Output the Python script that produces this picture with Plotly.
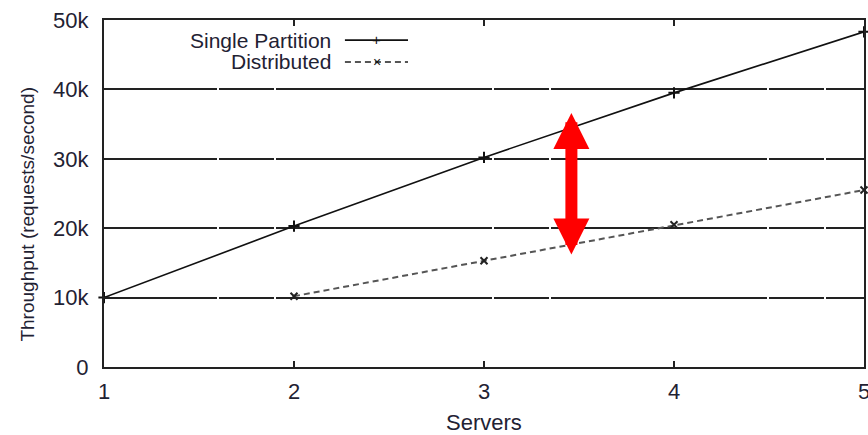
import plotly.graph_objects as go

servers = [1, 2, 3, 4, 5]
single_partition = [10000, 20300, 30200, 39500, 48300]
dist_servers = [2, 3, 4, 5]
distributed = [10200, 15300, 20500, 25500]
y_ticks = [0, 10000, 20000, 30000, 40000, 50000]
y_tick_labels = ["0", "10k", "20k", "30k", "40k", "50k"]
x_ticks = [1, 2, 3, 4, 5]
arrow_x = 3.46
arrow_top = 36600
arrow_bottom = 16000

FONT = "Liberation Sans, Arial, sans-serif"
TXT = "#1f2233"
FS = 22

fig = go.Figure()
fig.add_trace(go.Scatter(
    x=servers, y=single_partition, mode="lines+markers", name="Single Partition",
    line=dict(color="#111", width=1.6),
    marker=dict(symbol="cross-thin", size=8, line=dict(color="#111", width=2)),
    showlegend=False, cliponaxis=False))
fig.add_trace(go.Scatter(
    x=dist_servers, y=distributed, mode="lines+markers", name="Distributed",
    line=dict(color="#555", width=2, dash="6px,4px"),
    marker=dict(symbol="x-thin", size=7, line=dict(color="#222", width=2)),
    showlegend=False, cliponaxis=False))

fig.add_annotation(x=arrow_x, y=arrow_top, ax=arrow_x, ay=arrow_bottom,
                   xref="x", yref="y", axref="x", ayref="y",
                   showarrow=True, arrowhead=2, startarrowhead=2, arrowside="end+start",
                   arrowwidth=12, arrowsize=0.6, startarrowsize=0.6,
                   arrowcolor="#ff0000", text="")

# manual gnuplot-style legend (text left, sample right)
fig.add_annotation(xref="paper", yref="paper", x=0.301, y=0.942, xanchor="right",
                   yanchor="middle", text="Single Partition", showarrow=False,
                   font=dict(family=FONT, size=21, color=TXT))
fig.add_annotation(xref="paper", yref="paper", x=0.301, y=0.879, xanchor="right",
                   yanchor="middle", text="Distributed", showarrow=False,
                   font=dict(family=FONT, size=21, color=TXT))
fig.add_shape(type="line", xref="paper", yref="paper", x0=0.317, x1=0.4, y0=0.942, y1=0.942,
              line=dict(color="#111", width=1.6))
fig.add_shape(type="line", xref="paper", yref="paper", x0=0.317, x1=0.4, y0=0.879, y1=0.879,
              line=dict(color="#555", width=2, dash="6px,4px"))
fig.add_annotation(xref="paper", yref="paper", x=0.359, y=0.944, text="+", showarrow=False,
                   font=dict(family=FONT, size=15, color="#111"), yanchor="middle")
fig.add_annotation(xref="paper", yref="paper", x=0.359, y=0.879, text="×", showarrow=False,
                   font=dict(family=FONT, size=14, color="#111"), yanchor="middle")

# axis titles
fig.add_annotation(xref="paper", yref="paper", x=-0.101, y=0.44, text="Throughput (requests/second)",
                   textangle=-90, showarrow=False, xanchor="center", yanchor="middle",
                   font=dict(family=FONT, size=19, color=TXT))
fig.add_annotation(xref="paper", yref="paper", x=0.5, y=-0.161, text="Servers",
                   showarrow=False, xanchor="center", yanchor="middle",
                   font=dict(family=FONT, size=FS, color=TXT))

fig.update_xaxes(range=[1, 5], tickvals=x_ticks, ticktext=[str(v) for v in x_ticks],
                 showgrid=False, zeroline=False, showline=True, linecolor="#222",
                 linewidth=2, mirror="ticks", ticks="inside", ticklen=6, tickwidth=2,
                 tickcolor="#222", ticklabelstandoff=4, automargin=False,
                 ticklabeloverflow="allow",
                 tickfont=dict(family=FONT, size=FS, color=TXT))
fig.update_yaxes(range=[0, 50000], tickvals=y_ticks, ticktext=y_tick_labels,
                 showgrid=True, gridcolor="#222", gridwidth=2,
                 griddash="113px,2px,55px,2px,103px,0px",
                 zeroline=False, showline=True, linecolor="#222",
                 linewidth=2, mirror="ticks", ticks="inside", ticklen=6, tickwidth=2,
                 tickcolor="#222", ticklabelstandoff=9, automargin=False,
                 ticklabeloverflow="allow",
                 tickfont=dict(family=FONT, size=FS, color=TXT))

fig.update_layout(width=868, height=435, margin=dict(l=104, r=4, t=20, b=68),
                  plot_bgcolor="white", paper_bgcolor="white", showlegend=False)
fig.write_html("out.html", config={"displayModeBar": False}, post_script=(
    "document.documentElement.style.margin='0';"
    "document.body.style.margin='0';"
    "document.body.style.overflow='hidden';"
    "document.documentElement.style.overflow='hidden';"))
